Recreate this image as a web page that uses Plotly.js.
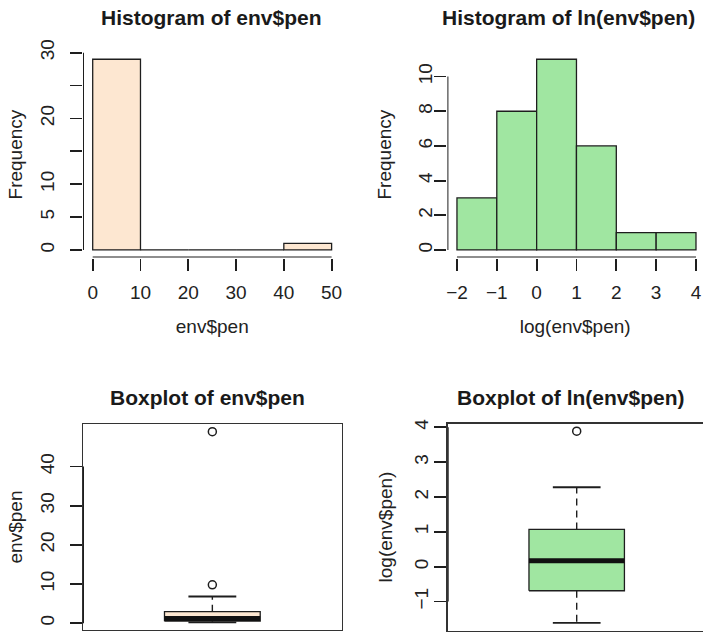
<!DOCTYPE html>
<html>
<head>
<meta charset="utf-8">
<script src="https://cdn.plot.ly/plotly-3.0.1.min.js"></script>
<style>
html,body{margin:0;padding:0;background:#fff;overflow:hidden;}
#chart{width:703px;height:632px;}
</style>
</head>
<body>
<div id="chart"></div>
<script>
// ---- data ----
const binEdgesLin = [0, 10, 20, 30, 40, 50];
const countsLin = [29, 0, 0, 0, 1];
const binEdgesLog = [-2, -1, 0, 1, 2, 3, 4];
const countsLog = [3, 8, 11, 6, 1, 1];
// box stats: [lower whisker, Q1, median, Q3, upper whisker]
const statsLin = [0.2, 0.5, 1.19, 2.92, 6.8];
const outliersLin = [9.8, 48.9];
const statsLog = [-1.61, -0.69, 0.17, 1.07, 2.28];
const outliersLog = [3.89];
const titles = ["Histogram of env$pen", "Histogram of ln(env$pen)", "Boxplot of env$pen", "Boxplot of ln(env$pen)"];
const xTicksLin = [0, 10, 20, 30, 40, 50];
const yTicksLinHist = [0, 5, 10, 15, 20, 25, 30];
const yTickTextLinHist = ["0", "5", "10", "", "20", "", "30"];
const xTicksLog = [-2, -1, 0, 1, 2, 3, 4];
const xTickTextLog = ["\u22122", "\u22121", "0", "1", "2", "3", "4"];
const yTicksLogHist = [0, 2, 4, 6, 8, 10];
const yTicksLinBox = [0, 10, 20, 30, 40];
const yTicksLogBox = [-1, 0, 1, 2, 3, 4];
const yTickTextLogBox = ["\u22121", "0", "1", "2", "3", "4"];

const FILL_LIN = "#fde7d1";
const FILL_LOG = "#a0e6a1";
const DARK = "#1e1e1e";
const FONT = "Liberation Sans, Arial, Helvetica, sans-serif";

const W = 703, H = 632;
const px = v => v / W;
const py = v => 1 - v / H;

const dom = {
  x1:[px(83), px(341.5)], y1:[py(257.6), py(51.6)],
  x2:[px(447.4), 1], y2:[py(257.6), py(51.6)],
  x3:[px(83), px(341.7)], y3:[py(630), py(424)],
  x4:[px(447.7), 1], y4:[py(630.5), py(423.5)]
};
const rng = {
  x1:[-2.03, 52.07], y1:[-1.16, 30.16],
  x2:[-2.24, 4.176], y2:[-0.44, 11.44],
  x3:[0.5, 1.5], y3:[-1.75, 50.85],
  x4:[0.5, 0.5 + 255.3/258], y4:[-1.83, 4.11]
};

function mids(e){ const m=[]; for(let i=0;i<e.length-1;i++) m.push((e[i]+e[i+1])/2); return m; }
function widths(e){ const w=[]; for(let i=0;i<e.length-1;i++) w.push(e[i+1]-e[i]); return w; }

const traces = [];
traces.push({type:"bar", x:mids(binEdgesLin), y:countsLin, width:widths(binEdgesLin),
  marker:{color:FILL_LIN, line:{color:DARK, width:1.3}}, xaxis:"x", yaxis:"y", hoverinfo:"skip"});
traces.push({type:"bar", x:mids(binEdgesLog), y:countsLog, width:widths(binEdgesLog),
  marker:{color:FILL_LOG, line:{color:DARK, width:1.3}}, xaxis:"x2", yaxis:"y2", hoverinfo:"skip"});

function boxTraces(st, outs, fill, xa, ya){
  const c = 1, hw = 0.185, cw = hw/2;
  const [lo, q1, med, q3, up] = st;
  return [
    {type:"scatter", mode:"lines", x:[c-hw,c+hw,c+hw,c-hw,c-hw], y:[q1,q1,q3,q3,q1], fill:"toself",
     fillcolor:fill, line:{color:DARK, width:1.3}, xaxis:xa, yaxis:ya, hoverinfo:"skip"},
    {type:"scatter", mode:"lines", x:[c,c,null,c,c], y:[q3,up,null,q1,lo],
     line:{color:DARK, width:1.4, dash:"7px,5px"}, xaxis:xa, yaxis:ya, hoverinfo:"skip"},
    {type:"scatter", mode:"lines", x:[c-cw,c+cw,null,c-cw,c+cw], y:[up,up,null,lo,lo],
     line:{color:DARK, width:1.8}, xaxis:xa, yaxis:ya, hoverinfo:"skip"},
    {type:"scatter", mode:"lines", x:[c-hw,c+hw], y:[med,med],
     line:{color:"#111", width:5}, xaxis:xa, yaxis:ya, hoverinfo:"skip"},
    {type:"scatter", mode:"markers", x:outs.map(()=>c), y:outs,
     marker:{symbol:"circle-open", size:8, color:DARK, line:{width:1.5, color:DARK}}, xaxis:xa, yaxis:ya, hoverinfo:"skip"}
  ];
}
traces.push(...boxTraces(statsLin, outliersLin, FILL_LIN, "x3", "y3"));
traces.push(...boxTraces(statsLog, outliersLog, FILL_LOG, "x4", "y4"));

// R-style axis lines spanning first..last tick, on the plot edges
function yAxisLine(xa, ya, xr, ticks){
  return {type:"scatter", mode:"lines", x:[xr[0], xr[0]], y:[ticks[0], ticks[ticks.length-1]], cliponaxis:false,
    line:{color:DARK, width:2}, xaxis:xa, yaxis:ya, hoverinfo:"skip"};
}
function xAxisLine(xa, ya, yr, ticks){
  return {type:"scatter", mode:"lines", x:[ticks[0], ticks[ticks.length-1]], y:[yr[0], yr[0]], cliponaxis:false,
    line:{color:DARK, width:2}, xaxis:xa, yaxis:ya, hoverinfo:"skip"};
}
traces.push(yAxisLine("x","y",rng.x1,yTicksLinHist), xAxisLine("x","y",rng.y1,xTicksLin),
            yAxisLine("x2","y2",rng.x2,yTicksLogHist), xAxisLine("x2","y2",rng.y2,xTicksLog),
            yAxisLine("x3","y3",rng.x3,yTicksLinBox), yAxisLine("x4","y4",rng.x4,yTicksLogBox));

const tickFont = {family:FONT, size:19, color:"#222"};
const titleFont = {family:FONT, size:19, color:"#222"};

function axisBase(extra){
  return Object.assign({showgrid:false, zeroline:false, showline:false, ticks:"outside", ticklen:12,
    tickwidth:1.8, tickcolor:DARK, tickfont:tickFont, tickmode:"array", fixedrange:true}, extra);
}

const layout = {
  width:W, height:H, margin:{l:0,r:0,t:0,b:0}, paper_bgcolor:"#fff", plot_bgcolor:"rgba(0,0,0,0)",
  showlegend:false, bargap:0,
  font:{family:FONT, color:"#222"},
  xaxis: axisBase({domain:dom.x1, range:rng.x1, tickvals:xTicksLin, anchor:"y",
    title:{text:"env$pen", font:titleFont, standoff:17}, ticklabelstandoff:6}),
  yaxis: axisBase({domain:dom.y1, range:rng.y1, tickvals:yTicksLinHist, ticktext:yTickTextLinHist,
    tickangle:-90, anchor:"x", title:{text:"Frequency", font:titleFont, standoff:9}, ticklabelstandoff:8}),
  xaxis2: axisBase({domain:dom.x2, range:rng.x2, tickvals:xTicksLog, ticktext:xTickTextLog, anchor:"y2",
    title:{text:"log(env$pen)", font:titleFont, standoff:17}, ticklabelstandoff:6}),
  yaxis2: axisBase({domain:dom.y2, range:rng.y2, tickvals:yTicksLogHist,
    tickangle:-90, anchor:"x2", title:{text:"Frequency", font:titleFont, standoff:18}, ticklabelstandoff:-5}),
  xaxis3: axisBase({domain:dom.x3, range:rng.x3, showticklabels:false, ticks:"", anchor:"y3",
    showline:true, mirror:true, linecolor:"#333", linewidth:1.3}),
  yaxis3: axisBase({domain:dom.y3, range:rng.y3, tickvals:yTicksLinBox,
    tickangle:-90, anchor:"x3", showline:true, mirror:true, linecolor:"#333", linewidth:1.3,
    title:{text:"env$pen", font:titleFont, standoff:9}, ticklabelstandoff:8}),
  xaxis4: axisBase({domain:dom.x4, range:rng.x4, showticklabels:false, ticks:"", anchor:"y4",
    showline:true, mirror:true, linecolor:"#333", linewidth:1.3}),
  yaxis4: axisBase({domain:dom.y4, range:rng.y4, tickvals:yTicksLogBox, ticktext:yTickTextLogBox,
    tickangle:-90, anchor:"x4", showline:true, linecolor:"#333", linewidth:1.3,
    title:{text:"log(env$pen)", font:titleFont, standoff:13}, ticklabelstandoff:-1}),
  annotations: []
};

const titlePos = [[212, 17], [568.5, 17], [207, 397], [570.5, 397]];
titles.forEach((t,i)=>{
  layout.annotations.push({text:"<b>"+t+"</b>", xref:"paper", yref:"paper", x:px(titlePos[i][0]), y:py(titlePos[i][1]),
    xanchor:"center", yanchor:"middle", showarrow:false, font:{family:FONT, size:21, color:"#1a1a1a"}});
});

Plotly.newPlot("chart", traces, layout, {staticPlot:true, displayModeBar:false});
</script>
</body>
</html>
